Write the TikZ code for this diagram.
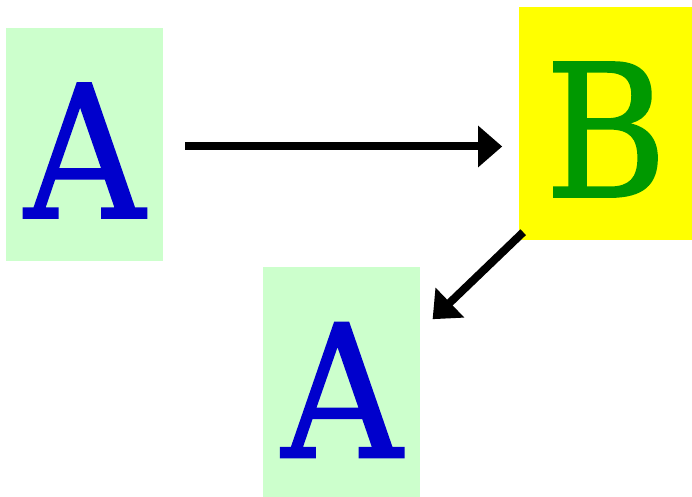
\documentclass[tikz,border=0pt]{standalone}
\usepackage{fontspec}
\setmainfont{DejaVu Serif Condensed}[FakeBold=1]
\usetikzlibrary{arrows.meta,positioning,calc}
\definecolor{figMint}{HTML}{CCFFCC}
\definecolor{figBlue}{HTML}{0000CC}
\definecolor{figYellow}{HTML}{FFFF00}
\definecolor{figGreen}{HTML}{009900}
\tikzset{
  fig/base/.style={inner sep=0pt, minimum height=233pt, text height=147pt,
    text depth=0pt, align=center, font=\fontsize{185}{185}\selectfont},
  fig/letterA/.style={fig/base, fill=figMint, text=figBlue, minimum width=157pt},
  fig/letterB/.style={fig/base, fill=figYellow, text=figGreen, minimum width=173pt},
  fig/arrow/.style={-{Triangle[length=24pt,width=40pt]}, draw=black,
    line width=8pt},
}
\begin{document}
\begin{tikzpicture}[
  x=1pt, y=1pt,
  box/.style={fig/letterA},
  arrow/.style={fig/arrow}
]
\useasboundingbox (0,0) rectangle (692,496);
\node[box] (first) at (84.5,351.5) {A};
\node[fig/letterB, right=356pt of first, yshift=21pt] (second) {B};
\node[box, below right=6pt and 100pt of first] (third) {A};
\draw[arrow] ($(first.east)+(22pt,-2pt)$) -- ($(first.east -| second.west)+(-17pt,-2pt)$);
\draw[arrow] ($(second.south west)+(4pt,8pt)$) -- ($(third.north east)+(12pt,-52pt)$);
\end{tikzpicture}
\end{document}
